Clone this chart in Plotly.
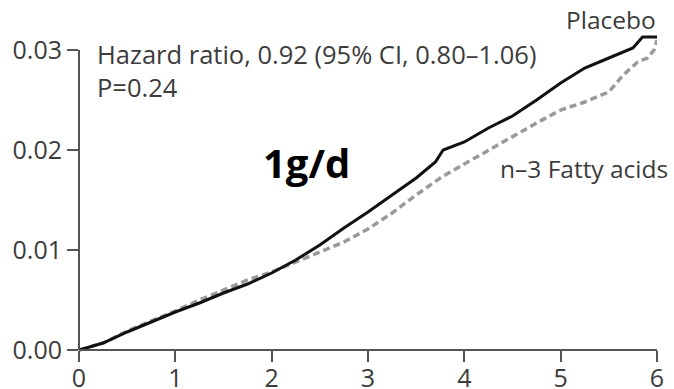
import plotly.graph_objects as go

# ---- data ----
placebo_years = [0, 0.25, 0.5, 0.75, 1.0, 1.25, 1.5, 1.75, 2.0, 2.25, 2.5, 2.75, 3.0, 3.25,
                 3.5, 3.7, 3.78, 4.0, 4.25, 4.5, 4.75, 5.0, 5.25, 5.5, 5.75, 5.85, 6.0]
placebo_rate = [0, 0.0007, 0.0018, 0.0028, 0.0038, 0.0047, 0.0057, 0.0066, 0.0077, 0.0090,
                0.0105, 0.0122, 0.0138, 0.0155, 0.0172, 0.0188, 0.0200, 0.0208, 0.0222,
                0.0234, 0.0250, 0.0267, 0.0282, 0.0292, 0.0302, 0.0313, 0.0313]

n3_years = [0, 0.25, 0.5, 0.75, 1.0, 1.25, 1.5, 1.75, 2.0, 2.25, 2.5, 2.75, 3.0, 3.25, 3.5,
            3.75, 4.0, 4.25, 4.5, 4.75, 5.0, 5.25, 5.5, 5.65, 5.8, 5.9, 5.97, 6.0]
n3_rate = [0, 0.0007, 0.0019, 0.0029, 0.0039, 0.0050, 0.0060, 0.0070, 0.0078, 0.0088, 0.0098,
           0.0108, 0.0121, 0.0137, 0.0155, 0.0172, 0.0186, 0.0200, 0.0213, 0.0227, 0.0240,
           0.0248, 0.0258, 0.0275, 0.0288, 0.0292, 0.0300, 0.0310]

x_ticks = [0, 1, 2, 3, 4, 5, 6]
y_ticks = [0.00, 0.01, 0.02, 0.03]
y_tick_labels = ["0.00", "0.01", "0.02", "0.03"]

TXT = "#3c3c3c"
AX = "#555555"
FONT = "Open Sans"

W, H = 674, 389
ml, mr, mt, mb = 79, 17, 30, 35
ymin, ymax = -0.0004, 0.032
plot_w = W - ml - mr
plot_h = H - mt - mb
y0_frac = (0 - ymin) / (ymax - ymin)
y3_frac = (0.03 - ymin) / (ymax - ymin)


def px(xp):
    return (xp - ml) / plot_w


def py(yp):
    return (H - mb - yp) / plot_h


fig = go.Figure()
fig.add_trace(go.Scatter(x=n3_years, y=n3_rate, mode="lines",
                         line=dict(color="#9a9a9a", width=3.5, dash="7px,4px"),
                         showlegend=False, hoverinfo="skip"))
fig.add_trace(go.Scatter(x=placebo_years, y=placebo_rate, mode="lines",
                         line=dict(color="#111111", width=3),
                         showlegend=False, hoverinfo="skip"))
# helper trace so the spine axis (y2) is drawn
fig.add_trace(go.Scatter(x=[None], y=[None], xaxis="x", yaxis="y2",
                         showlegend=False, hoverinfo="skip"))

fig.update_layout(
    width=W, height=H,
    margin=dict(l=ml, r=mr, t=mt, b=mb, autoexpand=False),
    paper_bgcolor="white", plot_bgcolor="rgba(0,0,0,0)",
    font=dict(family=FONT, size=25, color=TXT),
    xaxis=dict(range=[0, 6], anchor="free", position=y0_frac, automargin=False,
               showline=True, linecolor=AX, linewidth=2,
               ticks="outside", ticklen=11, tickwidth=2, tickcolor=AX,
               ticklabelstandoff=-5,
               tickvals=x_ticks, ticktext=[str(v) for v in x_ticks],
               tickfont=dict(family=FONT, size=25, color=TXT),
               showgrid=False, zeroline=False, fixedrange=True),
    yaxis=dict(range=[ymin, ymax], visible=False, showgrid=False, zeroline=False,
               fixedrange=True, automargin=False),
    yaxis2=dict(range=[0, 0.03], domain=[y0_frac, y3_frac], anchor="free", position=0,
                automargin=False,
                showline=True, linecolor=AX, linewidth=2,
                ticks="outside", ticklen=11, tickwidth=2, tickcolor=AX,
                tickvals=y_ticks, ticktext=y_tick_labels,
                tickfont=dict(family=FONT, size=25, color=TXT),
                showgrid=False, zeroline=False, fixedrange=True),
)

fig.add_annotation(x=px(95), y=py(70), xref="paper", yref="paper",
                   xanchor="left", yanchor="middle", align="left", showarrow=False,
                   text="Hazard ratio, 0.92 (95% CI, 0.80\u20131.06)<br>P=0.24",
                   font=dict(family=FONT, size=25.5, color=TXT))
fig.add_annotation(x=px(658), y=py(19), xref="paper", yref="paper",
                   xanchor="right", yanchor="middle", showarrow=False, text="Placebo",
                   font=dict(family=FONT, size=24.5, color=TXT))
fig.add_annotation(x=px(670), y=py(168), xref="paper", yref="paper",
                   xanchor="right", yanchor="middle", showarrow=False,
                   text="n\u20133 Fatty acids",
                   font=dict(family=FONT, size=24.5, color=TXT))
fig.add_annotation(x=px(261), y=py(162), xref="paper", yref="paper",
                   xanchor="left", yanchor="middle", showarrow=False, text="<b>1g/d</b>",
                   font=dict(family=FONT, size=40, color="#000000"))

fig.write_html("out.html")
